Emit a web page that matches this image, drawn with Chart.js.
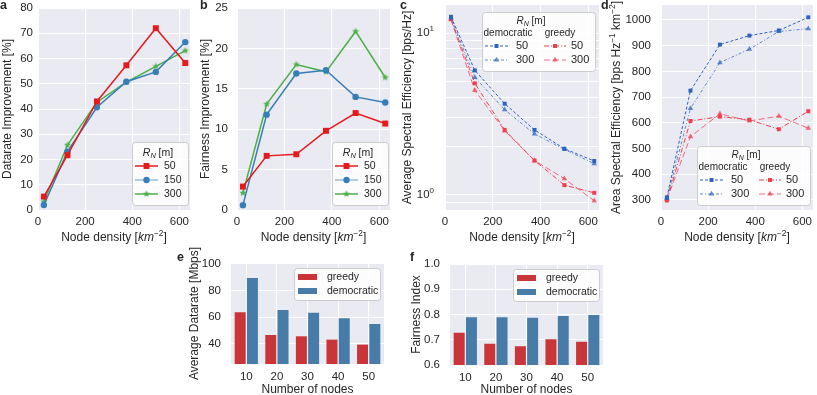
<!DOCTYPE html>
<html>
<head>
<meta charset="utf-8">
<script src="https://cdn.jsdelivr.net/npm/chart.js@4.4.0/dist/chart.umd.min.js"></script>
<style>
  html, body { margin: 0; padding: 0; background: #fff; }
  #fig { position: relative; width: 817px; height: 395px; overflow: hidden; }
  #fig canvas { position: absolute; left: 0; top: 0; }
</style>
</head>
<body>
<div id="fig">
  <canvas id="ca" width="817" height="395"></canvas>
  <canvas id="cb" width="817" height="395"></canvas>
  <canvas id="cc" width="817" height="395"></canvas>
  <canvas id="cd" width="817" height="395"></canvas>
  <canvas id="ce" width="817" height="395"></canvas>
  <canvas id="cf" width="817" height="395"></canvas>
</div>
<script>
// data
const density = [25, 125, 250, 375, 500, 625];

const rateImp50  = [5.3, 21.7, 43.0, 57.3, 72.0, 58.2];
const rateImp150 = [2.0, 23.1, 40.7, 50.8, 54.7, 66.5];
const rateImp300 = [3.3, 25.7, 42.7, 50.6, 56.9, 63.1];

const fairImp50  = [2.9, 6.7, 6.9, 9.8, 12.0, 10.7];
const fairImp150 = [0.6, 11.8, 16.9, 17.3, 14.0, 13.3];
const fairImp300 = [2.1, 13.1, 18.0, 17.1, 22.1, 16.4];

const seDem50     = [12.6, 5.88, 3.66, 2.52, 1.93, 1.62];
const seDem300    = [12.4, 5.32, 3.36, 2.38, 1.91, 1.56];
const seGreedy50  = [12.2, 4.89, 2.52, 1.63, 1.15, 1.03];
const seGreedy300 = [12.1, 4.42, 2.49, 1.63, 1.26, 0.92];

const aseDem50     = [310, 725, 904, 939, 959, 1010];
const aseDem300    = [306, 656, 834, 886, 955, 966];
const aseGreedy50  = [298, 607, 624, 612, 575, 645];
const aseGreedy300 = [302, 546, 635, 607, 626, 579];

const nodes = ['10', '20', '30', '40', '50'];
const rateGreedy = [63.7, 46.7, 45.7, 43.2, 39.5];
const rateDem    = [89.3, 65.4, 63.4, 59.2, 54.9];
const fairGreedy = [0.728, 0.684, 0.674, 0.702, 0.692];
const fairDem    = [0.789, 0.789, 0.787, 0.794, 0.798];

const xTicks = [0, 200, 400, 600];
const rateTicks = [0, 10, 20, 30, 40, 50, 60, 70, 80];
const fairTicks = [0, 5, 10, 15, 20, 25];
const logTicks = [0.9, 1, 2, 3, 4, 5, 6, 7, 8, 9, 10];
const aseTicks = [300, 400, 500, 600, 700, 800, 900, 1000];
const barRateTicks = [40, 60, 80, 100];
const barFairTicks = [0.6, 0.7, 0.8, 0.9, 1.0];

// look
const FONT = '"Liberation Sans", Arial, sans-serif';
const INK = '#262626';
const BG = '#eaeaf2';
const W = 817, H = 395, XH = 20;

function starImage(color, ro, ri) {
    const c = document.createElement('canvas');
    const s = Math.ceil(ro * 2) + 2;
    c.width = c.height = s;
    const g = c.getContext('2d');
    g.fillStyle = color;
    g.beginPath();
    for (let k = 0; k < 10; k++) {
        const r = k % 2 ? ri : ro;
        const a = -Math.PI / 2 + k * Math.PI / 5;
        g.lineTo(s / 2 + r * Math.cos(a), s / 2 + r * Math.sin(a));
    }
    g.closePath();
    g.fill();
    return c;
}

const S50  = { color: '#e41a1c', marker: 'rect', radius: 4.2, width: 1.5 };
const S150 = { color: '#377eb8', marker: 'circle', radius: 3.2, width: 1.5 };
const S300 = { color: '#4daf4a', marker: starImage('#4daf4a', 3.8, 1.6), radius: 4, width: 1.5 };

const DEM = '#2d63c0', DEM_L = 'rgba(45,99,192,0.75)';
const GRE = '#f23e4c', GRE_L = 'rgba(242,62,76,0.75)';
const D50  = { color: DEM,   marker: 'rect', radius: 2.8, width: 1, dash: [3, 2] };
const D300 = { color: DEM_L, marker: 'triangle', radius: 3.2, width: 1, dash: [3, 2, 1, 2] };
const G50  = { color: GRE,   marker: 'rect', radius: 2.8, width: 1, dash: [5, 2, 1, 2] };
const G300 = { color: GRE_L, marker: 'triangle', radius: 3.2, width: 1, dash: [6, 3] };

const BAR_RED = '#c93538', BAR_BLUE = '#477ca8';

// text with italics / sub / superscripts
function rich(ctx, segs, x, y, size, opts = {}) {
    const align = opts.align || 'center';
    ctx.save();
    ctx.fillStyle = opts.color || INK;
    ctx.textBaseline = 'middle';
    ctx.textAlign = 'left';
    const parts = segs.map(([t, f = '']) => {
        const fl = f.split(' ');
        const small = fl.includes('sup') || fl.includes('sub');
        const font = (fl.includes('it') ? 'italic ' : '') + (fl.includes('bold') ? 'bold ' : '') +
            (small ? size * 0.7 : size) + 'px ' + FONT;
        ctx.font = font;
        const dy = fl.includes('sup') ? -size * 0.38 : fl.includes('sub') ? size * 0.28 : 0;
        return { t, font, dy, w: ctx.measureText(t).width };
    });
    const total = parts.reduce((s, p) => s + p.w, 0);
    let cx = align === 'center' ? -total / 2 : align === 'right' ? -total : 0;
    ctx.translate(x, y);
    ctx.rotate(opts.rot || 0);
    parts.forEach(p => {
        ctx.font = p.font;
        ctx.fillText(p.t, cx, p.dy);
        cx += p.w;
    });
    ctx.restore();
}

function marker(ctx, style, x, y, r, color) {
    ctx.fillStyle = color;
    if (style === 'rect') {
        const s = r * Math.SQRT1_2;
        ctx.fillRect(x - s, y - s, 2 * s, 2 * s);
    } else if (style === 'circle') {
        ctx.beginPath();
        ctx.arc(x, y, r, 0, 2 * Math.PI);
        ctx.fill();
    } else if (style === 'triangle') {
        ctx.beginPath();
        for (let k = 0; k < 3; k++) {
            const a = k * 2 * Math.PI / 3;
            ctx.lineTo(x + Math.sin(a) * r, y - Math.cos(a) * r);
        }
        ctx.closePath();
        ctx.fill();
    } else {
        ctx.drawImage(style, x - style.width / 2, y - style.height / 2);
    }
}

function frame(ctx, x0, y0, w, h) {
    ctx.save();
    ctx.beginPath();
    ctx.roundRect(x0 + 0.5, y0 + 0.5, w, h, 3);
    ctx.fillStyle = 'rgba(255,255,255,0.85)';
    ctx.fill();
    ctx.strokeStyle = '#cccccc';
    ctx.lineWidth = 1;
    ctx.stroke();
    ctx.restore();
}

function handle(ctx, x0, x1, y, st, alpha) {
    ctx.save();
    ctx.globalAlpha = alpha || 1;
    ctx.strokeStyle = st.color;
    ctx.lineWidth = st.width;
    ctx.setLineDash(st.dash || []);
    ctx.beginPath();
    ctx.moveTo(x0, y);
    ctx.lineTo(x1, y);
    ctx.stroke();
    ctx.setLineDash([]);
    ctx.globalAlpha = 1;
    marker(ctx, st.marker, (x0 + x1) / 2, y, st.radius, st.color);
    ctx.restore();
}

const RN = [['R', 'it'], ['N', 'it sub'], [' [m]']];

function legendLines(ctx, x0, y0, items) {
    frame(ctx, x0, y0, 56, 63);
    rich(ctx, RN, x0 + 26, y0 + 11, 10.5);
    items.forEach((it, i) => {
        const y = y0 + 24 + i * 14;
        handle(ctx, x0 + 3, x0 + 26, y, it.st, it.alpha);
        rich(ctx, [[it.label]], x0 + 32, y, 10.5, { align: 'left' });
    });
}

function legendSplit(ctx, x0, y0) {
    frame(ctx, x0, y0, 113, 59);
    rich(ctx, RN, x0 + 49, y0 + 9, 10);
    rich(ctx, [['democratic']], x0 + 26, y0 + 21, 10);
    rich(ctx, [['greedy']], x0 + 78, y0 + 21, 10);
    [[D50, G50, '50'], [D300, G300, '300']].forEach(([d, g, lab], i) => {
        const y = y0 + 34 + i * 14;
        handle(ctx, x0 + 3, x0 + 26, y, d);
        rich(ctx, [[lab]], x0 + 34, y, 11, { align: 'left' });
        handle(ctx, x0 + 62, x0 + 84, y, g);
        rich(ctx, [[lab]], x0 + 89, y, 11, { align: 'left' });
    });
}

function legendBars(ctx, x0, y0) {
    frame(ctx, x0, y0, 86, 32);
    [[BAR_RED, 'greedy'], [BAR_BLUE, 'democratic']].forEach(([c, lab], i) => {
        const y = y0 + 9 + i * 14;
        ctx.fillStyle = c;
        ctx.fillRect(x0 + 4, y - 3, 19, 6);
        rich(ctx, [[lab]], x0 + 33, y, 10.5, { align: 'left' });
    });
}

function deco(cfg) {
    return {
        id: 'deco',
        beforeDraw(chart) {
            const a = chart.chartArea, ctx = chart.ctx;
            ctx.save();
            ctx.fillStyle = BG;
            ctx.fillRect(a.left, a.top, a.right - a.left, a.bottom - a.top);
            ctx.restore();
        },
        afterDraw(chart) {
            const a = chart.chartArea, ctx = chart.ctx;
            rich(ctx, [[cfg.letter[0], 'bold']], cfg.letter[1], cfg.letter[2], 12.5, { align: 'left' });
            rich(ctx, cfg.xTitle, (a.left + a.right) / 2, cfg.xTitleY, 12);
            rich(ctx, cfg.yTitle, cfg.yTitleX, (a.top + a.bottom) / 2, 12, { rot: -Math.PI / 2 });
            if (cfg.extra) cfg.extra(ctx, chart);
        }
    };
}

function axis(opts, size) {
    const list = opts.ticks;
    return Object.assign({
        grid: { color: '#ffffff', lineWidth: 1, drawTicks: false, offset: false },
        border: { display: false },
        ticks: {
            padding: opts.pad,
            color: INK,
            font: { family: FONT, size: 11.5 },
            callback: opts.fmt || (v => String(v))
        },
        afterBuildTicks: list ? (s => { s.ticks = list.map(v => ({ value: v })); }) : undefined,
        afterFit: s => {
            if (s.isHorizontal()) s.height = size; else s.width = size;
            s.paddingTop = 0; s.paddingBottom = 0; s.paddingLeft = 0; s.paddingRight = 0;
        }
    }, opts.extra || {});
}

function options(box, x, y) {
    const padLeft = Math.max(0, box[0] - 60);
    return {
        responsive: false,
        animation: false,
        events: [],
        layout: { padding: { left: padLeft, top: box[1], right: W - box[2], bottom: H - box[3] - XH } },
        plugins: { legend: { display: false }, tooltip: { enabled: false } },
        scales: { x: axis(x, XH), y: axis(y, box[0] - padLeft) }
    };
}

function lineSet(label, ys, st) {
    return {
        label,
        data: density.map((x, i) => ({ x, y: ys[i] })),
        borderColor: st.color,
        backgroundColor: st.color,
        borderWidth: st.width,
        borderDash: st.dash || [],
        pointStyle: st.marker,
        pointRadius: st.radius,
        pointBackgroundColor: st.color,
        pointBorderColor: st.color,
        pointBorderWidth: 0,
        tension: 0,
        clip: false
    };
}

function barSet(label, ys, color) {
    return { label, data: ys, backgroundColor: color, borderWidth: 0, barPercentage: 0.9, categoryPercentage: 0.8 };
}

const nodeDensity = [['Node density ['], ['km', 'it'], ['\u22122', 'sup'], [']']];
const linX = { pad: 5, ticks: xTicks, extra: { type: 'linear', min: 0, max: 645 } };
const catX = { pad: 6, fmt: function (v) { return this.getLabelForValue(v); } };

// a
new Chart(document.getElementById('ca'), {
    type: 'line',
    data: { datasets: [
        lineSet('50', rateImp50, S50),
        lineSet('150', rateImp150, S150),
        lineSet('300', rateImp300, S300)
    ] },
    options: options([38, 8, 190, 210], linX,
        { pad: 5, ticks: rateTicks, extra: { min: 0, max: 80 } }),
    plugins: [deco({
        letter: ['a', 0, 6], xTitle: nodeDensity, xTitleY: 238,
        yTitle: [['Datarate Improvement [%]']], yTitleX: 8,
        extra: ctx => legendLines(ctx, 132, 142, [
            { label: '50', st: S50 }, { label: '150', st: S150, alpha: 0.5 }, { label: '300', st: S300 }
        ])
    })]
});

// b
new Chart(document.getElementById('cb'), {
    type: 'line',
    data: { datasets: [
        lineSet('50', fairImp50, S50),
        lineSet('150', fairImp150, S150),
        lineSet('300', fairImp300, S300)
    ] },
    options: options([237, 8, 390, 210], linX,
        { pad: 9, ticks: fairTicks, extra: { min: 0, max: 25 } }),
    plugins: [deco({
        letter: ['b', 200, 6], xTitle: nodeDensity, xTitleY: 238,
        yTitle: [['Fairness Improvement [%]']], yTitleX: 206,
        extra: ctx => legendLines(ctx, 332, 142, [
            { label: '50', st: S50 }, { label: '150', st: S150, alpha: 0.5 }, { label: '300', st: S300 }
        ])
    })]
});

// c
new Chart(document.getElementById('cc'), {
    type: 'line',
    data: { datasets: [
        lineSet('democratic 50', seDem50, D50),
        lineSet('democratic 300', seDem300, D300),
        lineSet('greedy 50', seGreedy50, G50),
        lineSet('greedy 300', seGreedy300, G300)
    ] },
    options: options([445, 5, 599, 210], linX,
        { pad: 0, ticks: logTicks, fmt: () => '', extra: { type: 'logarithmic', min: 0.807, max: 14.9 } }),
    plugins: [deco({
        letter: ['c', 400, 6], xTitle: nodeDensity, xTitleY: 238,
        yTitle: [['Average Spectral Efficiency [bps/Hz]']], yTitleX: 408,
        extra: (ctx, chart) => {
            const s = chart.scales.y, left = chart.chartArea.left - 11;
            rich(ctx, [['10'], ['1', 'sup']], left, s.getPixelForValue(10), 11.5, { align: 'right' });
            rich(ctx, [['10'], ['0', 'sup']], left, s.getPixelForValue(1), 11.5, { align: 'right' });
            legendSplit(ctx, 482, 12);
        }
    })]
});

// d
new Chart(document.getElementById('cd'), {
    type: 'line',
    data: { datasets: [
        lineSet('democratic 50', aseDem50, D50),
        lineSet('democratic 300', aseDem300, D300),
        lineSet('greedy 50', aseGreedy50, G50),
        lineSet('greedy 300', aseGreedy300, G300)
    ] },
    options: options([661, 5, 813, 210], linX,
        { pad: 10, ticks: aseTicks, extra: { min: 261, max: 1058 } }),
    plugins: [deco({
        letter: ['d', 601, 6], xTitle: nodeDensity, xTitleY: 238,
        yTitle: [['Area Spectral Efficiency [bps Hz'], ['\u22121', 'sup'], [' km'], ['\u22122', 'sup'], [']']],
        yTitleX: 617,
        extra: ctx => legendSplit(ctx, 697, 146)
    })]
});

// e
new Chart(document.getElementById('ce'), {
    type: 'bar',
    data: { labels: nodes, datasets: [barSet('greedy', rateGreedy, BAR_RED), barSet('democratic', rateDem, BAR_BLUE)] },
    options: options([231, 263, 384, 364], catX,
        { pad: 10, ticks: barRateTicks, extra: { min: 25, max: 100.5 } }),
    plugins: [deco({
        letter: ['e', 177, 258], xTitle: [['Number of nodes']], xTitleY: 390,
        yTitle: [['Average Datarate [Mbps]']], yTitleX: 195,
        extra: ctx => legendBars(ctx, 294, 268)
    })]
});

// f
new Chart(document.getElementById('cf'), {
    type: 'bar',
    data: { labels: nodes, datasets: [barSet('greedy', fairGreedy, BAR_RED), barSet('democratic', fairDem, BAR_BLUE)] },
    options: options([450, 264, 603, 365], catX,
        { pad: 10, ticks: barFairTicks, fmt: v => v.toFixed(1), extra: { min: 0.6, max: 1.0 } }),
    plugins: [deco({
        letter: ['f', 410, 258], xTitle: [['Number of nodes']], xTitleY: 390,
        yTitle: [['Fairness Index']], yTitleX: 417,
        extra: ctx => legendBars(ctx, 513, 269)
    })]
});
</script>
</body>
</html>
